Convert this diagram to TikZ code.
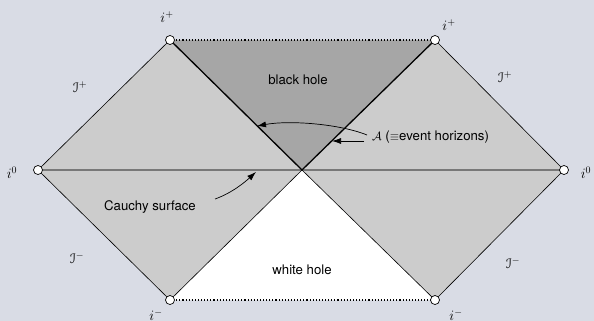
\documentclass[tikz,border=0pt]{standalone}
\usepackage{fontspec}
\setsansfont{TeX Gyre Heros}
\usepackage[mathscr]{eucal}
\usetikzlibrary{arrows.meta}
\definecolor{bg}{HTML}{D9DCE5}
\definecolor{lgray}{HTML}{CCCCCC}
\definecolor{dgray}{HTML}{A6A6A6}
\definecolor{cgray}{HTML}{787878}
\begin{document}
\begin{tikzpicture}[x=1pt,y=-1pt,
  every node/.style={font=\fontsize{13.2}{15}\selectfont\sffamily, inner sep=0pt},
  mlab/.style={font=\fontsize{14}{16}\selectfont},
  pt/.style={circle, draw=black, fill=white, line width=0.7pt, minimum size=9pt, inner sep=0pt},
  edge/.style={draw=black, line width=0.6pt},
  horizon/.style={draw=black, line width=1.3pt},
  dotline/.style={draw=black, line width=1.1pt, dotted},
  arr/.style={draw=black, line width=0.7pt, -{Latex[length=9pt,width=6pt]}}]
\fill[bg] (0,0) rectangle (594,321);
\useasboundingbox (0,0) rectangle (594,321);
\coordinate (c) at (302,170);
\coordinate (tl) at (170,40);
\coordinate (tr) at (435,40);
\coordinate (bl) at (170,300);
\coordinate (br) at (435,300);
\coordinate (ol) at (38,170);
\coordinate (or) at (564,170);
% regions
\fill[lgray] (ol) -- (tl) -- (c) -- (bl) -- cycle;
\fill[lgray] (or) -- (tr) -- (c) -- (br) -- cycle;
\fill[dgray] (tl) -- (tr) -- (c) -- cycle;
\fill[white] (bl) -- (br) -- (c) -- cycle;
% Cauchy surface
\draw[cgray, line width=1.8pt] (ol) -- (or);
% edges
\draw[edge] (tl) -- (ol) -- (bl);
\draw[edge] (tr) -- (or) -- (br);
\draw[edge] (c) -- (bl);
\draw[edge] (c) -- (br);
\draw[horizon] (tl) -- (c) -- (tr);
\draw[dotline] (tl) -- (tr);
\draw[dotline] (bl) -- (br);
% points
\node[pt] (ptl) at (tl) {};
\node[pt] (ptr) at (tr) {};
\node[pt] (pbl) at (bl) {};
\node[pt] (pbr) at (br) {};
\node[pt] (pol) at (ol) {};
\node[pt] (por) at (or) {};
% labels
\node[mlab] (lip1) at (167,17) {$i^+$};
\node[mlab] (lip2) at (449,25) {$i^+$};
\node[mlab] (li01) at (12,173) {$i^0$};
\node[mlab] (li02) at (586,173) {$i^0$};
\node[mlab] (lim1) at (156,315) {$i^-$};
\node[mlab] (lim2) at (456,315) {$i^-$};
\node[mlab] (s1) at (80,87) {$\mathscr{I}^+$};
\node[mlab] (s2) at (505,77) {$\mathscr{I}^+$};
\node[mlab] (s3) at (77,258) {$\mathscr{I}^-$};
\node[mlab] (s4) at (513,263) {$\mathscr{I}^-$};
\node (bh) at (298,80) {black hole};
\node (wh) at (302,270) {white hole};
\node (cs) at (150,207) {Cauchy surface};
\node[anchor=west] (ah) at (372,137) {$\mathcal{A}$ ($\equiv$event horizons)};
% arrow targets
\coordinate (h1) at (257,126);
\coordinate (h2) at (332,141);
\coordinate (cs1) at (256,172);
\coordinate (a1) at (367,135);
\coordinate (a2) at (364,141);
\coordinate (c1) at (215,199);
\draw[arr] (a1) .. controls (340,124) and (290,120) .. (h1);
\draw[arr] (a2) -- (h2);
\draw[arr] (c1) .. controls (232,193) and (245,182) .. (cs1);
\end{tikzpicture}
\end{document}
